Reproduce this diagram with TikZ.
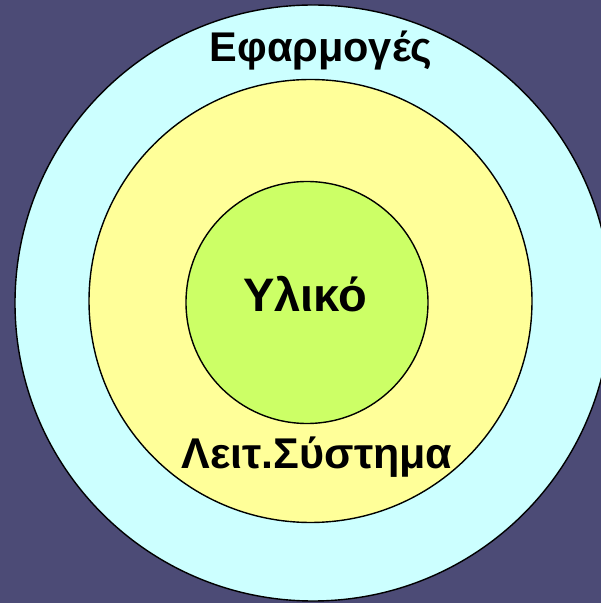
\documentclass[tikz,border=0pt]{standalone}
\usepackage{fontspec}
\setmainfont{Liberation Sans}
\definecolor{bgc}{HTML}{4C4B76}
\definecolor{cyanc}{HTML}{CCFFFF}
\definecolor{yelc}{HTML}{FFFF99}
\definecolor{grnc}{HTML}{CCFF66}
\tikzset{
  ring/.style={circle, draw=black, line width=1.4pt, inner sep=0pt},
  lbl/.style={anchor=base, inner sep=0pt, text=black}
}
\begin{document}
\begin{tikzpicture}[x=1pt,y=1pt]
\fill[bgc] (0,0) rectangle (601,603);
\useasboundingbox (0,0) rectangle (601,603);
\begin{scope}
\clip (0,0) rectangle (601,603);
\node[ring, fill=cyanc, minimum size=596pt] (outer) at (313,300) {};
\node[ring, fill=yelc, minimum size=443pt] (middle) at (310.5,302) {};
\node[ring, fill=grnc, minimum size=242pt] (inner) at (307,300.5) {};
\end{scope}
\node[lbl, font=\bfseries\fontsize{41.5}{48}\selectfont] (app) at (321,541) {Εφαρμογές};
\node[lbl, font=\bfseries\fontsize{47}{54}\selectfont] (hw) at (305,291) {Υλικό};
\node[lbl, font=\bfseries\fontsize{43}{50}\selectfont] (os) at (317,134) {Λειτ.Σύστημα};
\end{tikzpicture}
\end{document}
